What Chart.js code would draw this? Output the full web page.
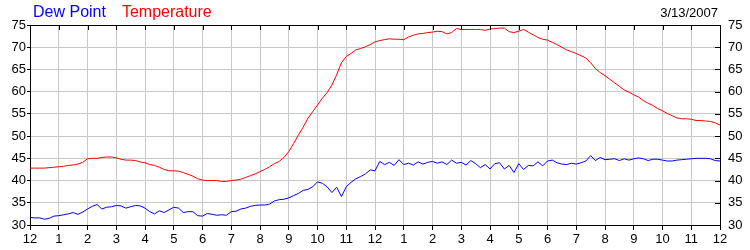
<!DOCTYPE html>
<html>
<head>
<meta charset="utf-8">
<script src="https://cdn.jsdelivr.net/npm/chart.js@4.4.0/dist/chart.umd.min.js"></script>
<style>
  html, body { margin: 0; padding: 0; background: #fff; }
</style>
</head>
<body>
<canvas id="weather_chart" width="750" height="250"></canvas>
<script>
const chart_date = "3/13/2007";
const series_names = ["Dew Point", "Temperature"];
const series_colors = ["#0000ff", "#ff0000"];

// one reading every 10 minutes, midnight to midnight
const minutes_per_reading = 10;
const temperature = [
  42.8, 42.8, 42.8, 42.8, 42.9, 43.0, 43.1, 43.2, 43.4, 43.5, 43.7, 44.1,
  44.9, 45.0, 45.0, 45.2, 45.3, 45.3, 45.1, 44.8, 44.6, 44.6, 44.5, 44.2,
  44.0, 43.6, 43.4, 43.0, 42.5, 42.2, 42.2, 42.1, 41.8, 41.4, 41.0, 40.4,
  40.1, 40.0, 40.0, 40.0, 39.8, 39.8, 40.0, 40.1, 40.3, 40.7, 41.1, 41.5,
  42.0, 42.5, 43.1, 43.8, 44.3, 45.2, 46.5, 48.3, 50.2, 52.0, 54.0, 55.5,
  57.0, 58.5, 59.8, 61.5, 63.8, 66.5, 67.9, 68.6, 69.4, 69.7, 70.1, 70.6,
  71.2, 71.5, 71.7, 71.9, 71.8, 71.8, 71.7, 72.3, 72.7, 73.0, 73.1, 73.3,
  73.4, 73.6, 73.5, 73.0, 73.3, 74.2, 74.0, 74.0, 74.0, 74.0, 74.0, 73.8,
  74.1, 74.2, 74.3, 74.3, 73.5, 73.3, 73.6, 74.0, 73.4, 72.8, 72.2, 71.8,
  71.6, 71.1, 70.6, 70.0, 69.4, 69.0, 68.6, 68.1, 67.6, 66.5, 65.2, 64.3,
  63.6, 62.8, 62.0, 61.2, 60.4, 59.9, 59.3, 58.8, 58.0, 57.4, 56.9, 56.2,
  55.7, 55.1, 54.6, 54.1, 53.9, 53.9, 53.8, 53.5, 53.5, 53.4, 53.3, 53.0,
  52.5
];
const dew_point = [
  31.7, 31.6, 31.6, 31.3, 31.5, 32.0, 32.1, 32.3, 32.5, 32.8, 32.4, 32.9,
  33.6, 34.2, 34.6, 33.6, 34.0, 34.1, 34.4, 34.3, 33.8, 34.1, 34.4, 34.3,
  33.8, 33.0, 32.5, 33.2, 32.8, 33.4, 34.0, 33.8, 32.8, 33.0, 33.0, 32.1,
  32.0, 32.6, 32.4, 32.2, 32.3, 32.2, 33.0, 33.1, 33.6, 33.8, 34.2, 34.4,
  34.5, 34.5, 34.7, 35.4, 35.7, 35.8, 36.1, 36.6, 37.1, 37.8, 38.0, 38.6,
  39.7, 39.4, 38.6, 37.3, 38.5, 36.4, 38.6, 39.6, 40.4, 40.9, 41.5, 42.4,
  42.2, 44.3, 43.6, 44.1, 43.4, 44.7, 43.6, 43.9, 43.5, 44.2, 43.7, 44.1,
  44.3, 43.9, 44.2, 43.6, 44.6, 43.9, 44.1, 43.5, 44.5, 43.8, 42.9, 43.6,
  42.6, 43.8, 44.0, 42.6, 43.4, 41.8, 43.8, 42.5, 43.4, 43.3, 44.2, 43.3,
  44.4, 44.6, 44.0, 43.7, 43.6, 43.9, 43.7, 44.0, 44.4, 45.6, 44.5, 45.2,
  44.7, 44.8, 44.9, 44.5, 44.9, 44.6, 44.9, 45.1, 44.9, 44.5, 44.8, 44.8,
  44.6, 44.4, 44.4, 44.6, 44.7, 44.8, 44.9, 45.0, 45.0, 45.0, 44.9, 44.5,
  44.4
];
const hour_labels = [
  "12", "1", "2", "3", "4", "5", "6", "7", "8", "9", "10", "11",
  "12", "1", "2", "3", "4", "5", "6", "7", "8", "9", "10", "11", "12"
];
const y_min = 30;
const y_max = 75;
const y_step = 5;

const tick_font = { family: "'Liberation Sans', Arial, sans-serif", size: 13 };

function toPoints(values) {
  return values.map(function(v, i) {
    return { x: i * minutes_per_reading / 60, y: v };
  });
}

// top border, inward ticks on top/right, coloured legend text and date
const frame_plugin = {
  id: "frame",
  afterDraw: function(chart) {
    const ctx = chart.ctx;
    const area = chart.chartArea;
    const x_scale = chart.scales.x;
    const y_scale = chart.scales.y;
    ctx.save();
    ctx.strokeStyle = "#000";
    ctx.lineWidth = 1;
    ctx.beginPath();
    ctx.moveTo(area.left, area.top + 0.5);
    ctx.lineTo(area.right + 1, area.top + 0.5);
    x_scale.ticks.forEach(function(t) {
      const px = Math.round(x_scale.getPixelForValue(t.value)) + 0.5;
      ctx.moveTo(px, area.top);
      ctx.lineTo(px, area.top + 5);
    });
    y_scale.ticks.forEach(function(t) {
      const py = Math.round(y_scale.getPixelForValue(t.value)) + 0.5;
      ctx.moveTo(area.right - 5, py);
      ctx.lineTo(area.right, py);
    });
    ctx.stroke();

    ctx.textBaseline = "alphabetic";
    ctx.font = "16px 'Liberation Sans', Arial, sans-serif";
    let lx = 33;
    series_names.forEach(function(name, i) {
      ctx.fillStyle = series_colors[i];
      ctx.textAlign = "left";
      ctx.fillText(name, lx, 17);
      lx += ctx.measureText(name).width + 16;
    });
    ctx.fillStyle = "#000";
    ctx.font = "13px 'Liberation Sans', Arial, sans-serif";
    ctx.textAlign = "right";
    ctx.fillText(chart_date, 718, 17);
    ctx.restore();
  }
};

new Chart("weather_chart", {
  type: "line",
  data: {
    datasets: [{
      label: series_names[0],
      data: toPoints(dew_point),
      borderColor: series_colors[0],
      borderWidth: 1,
      pointRadius: 0,
      tension: 0,
      fill: false
    }, {
      label: series_names[1],
      data: toPoints(temperature),
      borderColor: series_colors[1],
      borderWidth: 1,
      pointRadius: 0,
      tension: 0,
      fill: false
    }]
  },
  options: {
    responsive: false,
    animation: false,
    layout: { padding: { top: 25, left: 0, right: 0, bottom: 0 } },
    plugins: {
      legend: { display: false },
      tooltip: { enabled: false }
    },
    scales: {
      x: {
        type: "linear",
        position: "bottom",
        min: 0,
        max: 24,
        ticks: {
          stepSize: 1,
          autoSkip: false,
          maxRotation: 0,
          padding: 2,
          color: "#000",
          font: tick_font,
          callback: function(v) { return hour_labels[v]; }
        },
        grid: { color: "#c8c8c8", tickColor: "#000", tickLength: 5 },
        border: { color: "#000" },
        afterFit: function(s) { s.height = 25; }
      },
      y: {
        position: "left",
        min: y_min,
        max: y_max,
        ticks: { stepSize: y_step, padding: 1, color: "#000", font: tick_font },
        grid: { color: "#c8c8c8", tickColor: "#000", tickLength: 3 },
        border: { color: "#000" },
        afterFit: function(s) { s.width = 30; }
      },
      y2: {
        position: "right",
        min: y_min,
        max: y_max,
        ticks: { stepSize: y_step, padding: 8, color: "#000", font: tick_font },
        grid: { drawOnChartArea: false, drawTicks: false },
        border: { color: "#000" },
        afterFit: function(s) { s.width = 30; }
      }
    }
  },
  plugins: [frame_plugin]
});
</script>
</body>
</html>
